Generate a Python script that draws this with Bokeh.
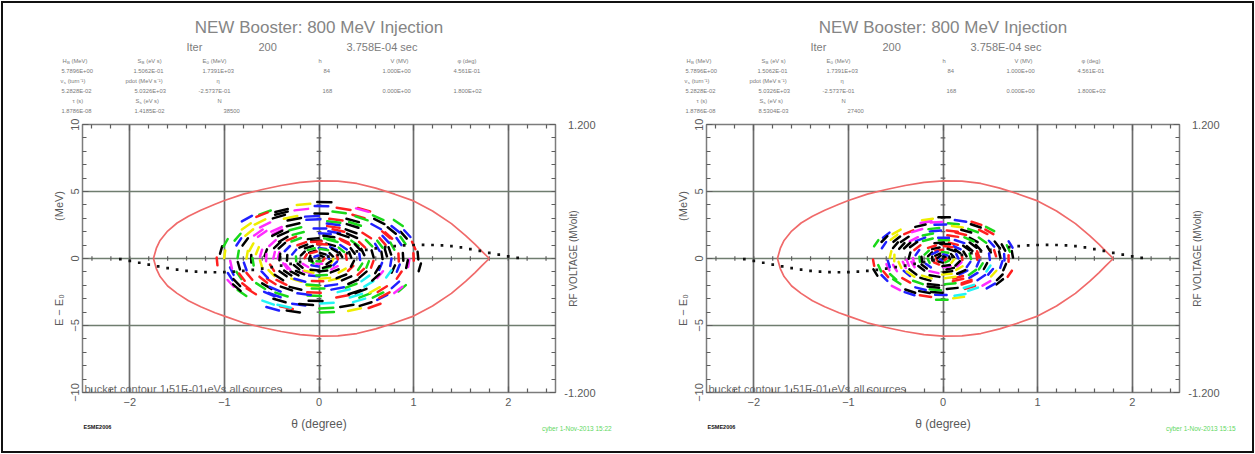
import math
from bokeh.plotting import figure
from bokeh.models import Range1d, LinearAxis, FixedTicker, CustomJSTickFormatter, Label
from bokeh.layouts import row, column
from bokeh.core.properties import value
from bokeh.embed import file_html
from bokeh.resources import INLINE

FONT = "Liberation Sans"

# ---------------- texts ----------------
TITLE = "NEW Booster: 800 MeV Injection"
ITER_TEXTS = ["Iter", "200", "3.758E-04 sec"]
BUCKET_NOTE = "bucket contour 1.51E-01 eVs all sources"
CODE_TAG = "ESME2006"
STAMPS = ["cyber  1-Nov-2013 15:22", "cyber  1-Nov-2013 15:15"]
X_LABEL = "\u03b8 (degree)"
Y_LABEL = "E \u2212 E\u2080" + "\u00a0" * 24 + "(MeV)"
RF_LABEL = "RF VOLTAGE (MVolt)"
RF_TICK_LABELS = ["1.200", "-1.200"]

# parameter table: headers as (base, subscript, rest)
HEADERS = [
    [("H", "B", "(MeV)"), ("S", "B", "(eV s)"), ("E", "0", "(MeV)"), ("h", "", ""), ("V (MV)", "", ""), ("\u03c6 (deg)", "", "")],
    [("\u03bd", "s", "(turn\u207b\u00b9)"), ("pdot (MeV s\u207b\u00b9)", "", ""), ("\u03b7", "", "")],
    [("\u03c4 (s)", "", ""), ("S", "s", "(eV s)"), ("N", "", "")],
]
VALUES_ROW1 = ["5.7896E+00", "1.5062E-01", "1.7391E+03", "84", "1.000E+00", "4.561E-01"]
VALUES_ROW2 = ["5.2828E-02", "5.0326E+03", "-2.5737E-01", "168", "0.000E+00", "1.800E+02"]
VALUES_ROW3_LEFT = ["1.8786E-08", "1.4185E-02", "38500"]
VALUES_ROW3_RIGHT = ["1.8786E-08", "8.5304E-03", "27400"]

# ---------------- axes ----------------
X_MAJOR = [-2, -1, 0, 1, 2]
X_MINOR = [-2.4, -2.2, -1.8, -1.6, -1.4, -1.2, -0.8, -0.6, -0.4, -0.2,
           0.2, 0.4, 0.6, 0.8, 1.2, 1.4, 1.6, 1.8, 2.2, 2.4]
Y_MAJOR = [-10, -5, 0, 5, 10]
Y_MINOR = [-9, -8, -7, -6, -4, -3, -2, -1, 1, 2, 3, 4, 6, 7, 8, 9]
RF_TICKS = [-1.2, 1.2]
RF_MINOR = [-1.08, -0.96, -0.84, -0.72, -0.6, -0.48, -0.36, -0.24, -0.12, 0.0,
            0.12, 0.24, 0.36, 0.48, 0.6, 0.72, 0.84, 0.96, 1.08]

# ---------------- bucket contour (theta deg, dE MeV) ----------------
BUCKET_THETA = [-1.75, -1.72, -1.68, -1.60, -1.50, -1.38, -1.25, -1.10, -1.00, -0.80, -0.60, -0.40, -0.20,
                0.00, 0.20, 0.40, 0.60, 0.80, 1.00, 1.20, 1.40, 1.55, 1.65, 1.72, 1.80]
BUCKET_UPPER = [0.0, 0.75, 1.35, 2.05, 2.65, 3.15, 3.6, 4.05, 4.33, 4.8, 5.15, 5.45, 5.68,
                5.8, 5.78, 5.6, 5.25, 4.8, 4.3, 3.55, 2.6, 1.7, 1.05, 0.55, 0.0]
BUCKET_LOWER = [0.0, -0.75, -1.35, -2.05, -2.6, -3.15, -3.6, -4.05, -4.3, -4.8, -5.15, -5.45, -5.68,
                -5.8, -5.78, -5.6, -5.25, -4.8, -4.3, -3.55, -2.6, -1.7, -1.05, -0.55, 0.0]

# ---------------- RF voltage (dotted), theta deg, MVolt ----------------
RF_THETA = [-2.1, -2.0, -1.9, -1.8, -1.7, -1.6, -1.5, -1.4, -1.3, -1.2, -1.1, -1.0, -0.9, -0.8, -0.7,
            -0.6, -0.5, -0.4, -0.3, -0.2, -0.1, 0.0, 0.1, 0.2, 0.3, 0.4, 0.5, 0.6, 0.7, 0.8, 0.9,
            1.0, 1.1, 1.2, 1.3, 1.4, 1.5, 1.6, 1.7, 1.8, 1.9, 2.0, 2.1]
RF_VOLT = [-0.006, -0.022, -0.038, -0.054, -0.070, -0.086, -0.100, -0.111, -0.118, -0.122, -0.123, -0.122,
           -0.118, -0.111, -0.102, -0.091, -0.078, -0.064, -0.049, -0.033, -0.017, 0.000, 0.017, 0.033,
           0.049, 0.064, 0.078, 0.091, 0.102, 0.111, 0.117, 0.121, 0.122, 0.121, 0.117, 0.110, 0.100,
           0.084, 0.068, 0.050, 0.034, 0.019, 0.006]

# ---------------- macro-particle dashes: rings of colour slots ----------------
# lower-case letter: dash on the ring; upper-case: dash slightly outside the ring; '.': empty slot
LEFT_RADII = [1.00, 0.955, 0.91, 0.865, 0.82, 0.775, 0.73, 0.685, 0.64, 0.595, 0.55,
              0.505, 0.46, 0.415, 0.37, 0.325, 0.28, 0.235, 0.19, 0.145, 0.10, 0.055]
LEFT_PHASE = [3, 14, 8, 21, 2, 17, 11, 26, 5, 19, 9, 30, 15, 4, 22, 12, 35, 18, 7, 28, 14, 50]
LEFT_RINGS = [
    "k.bG.r.Ky.gB..kR.mg.Bk..yR.g.K",
    "Rk.gM.b.kR..Gy.bK.cr.G.kbM..r",
    ".gBk.R.mk.Yg..bKr.C.gk.Rb.m",
    "bK.rg..kY.b.MgR.kb..cG.rK.",
    "K.rbG.k..mY.gkR.b.Kc.gR.b",
    "gR.k.bY.mK..rgB.k.cY.kR",
    "kB.gr.K.m.yB.kG..rk.Cb",
    "R.kgB.m.Yk.rB.g.Kcm.k",
    "kGr.b.Km.yG.rkB.c.Kb",
    "B.kr.gK.myB.kR.gcK.",
    "kG.rb.Kmk.yR.gBk.r",
    "rKb.gk.MrK.yb.Kg.",
    "kgKb.rKm.kyG.kR.",
    "bKrk.gKm.kBry.G",
    "kRgk.bKmk.yKr.",
    "kbGkr.kMkb.yK",
    "gkRkb.kmGk.r",
    "kbRk.gkYkm.",
    "rKbgk.mKgb",
    "kGkr.bKy",
    "bkRkgmK",
    "kbKgr",
]
LEFT_SEMI = (1.05, 4.1)

RIGHT_RADII = [1.00, 0.94, 0.88, 0.82, 0.76, 0.70, 0.64, 0.58, 0.52, 0.46, 0.40, 0.34, 0.28, 0.22, 0.16, 0.10, 0.05]
RIGHT_PHASE = [6, 15, 2, 24, 10, 19, 4, 28, 12, 33, 8, 20, 40, 15, 27, 9, 55]
RIGHT_RINGS = [
    "kB.gr.Ky..bG.rK.mb.Gy..kR.",
    "G.rkB.m.yK..gB.kR.c.Bk.r",
    "bK.r.gMk.yB..Rg.kB.cm.K",
    "K.gyB.rk..mG.bK.r.yBk",
    "rB.k.gM.kyB.r.GkC.b.",
    "kG.rb.K.yM.gK.rBc.",
    "B.kR.gmK.yb.KgR.k",
    "kGr.bK.mYk.rBg.",
    "rK.bgK.mKy.rGb",
    "kBg.rKm.kYb.R",
    "gKrk.bMk.yKb",
    "kbKr.gkMky.",
    "kRkgKb.kmr",
    "bKrkg.mK",
    "kgBkrKy",
    "kbKrkg",
    "kKbr",
]
RIGHT_SEMI = (0.74, 3.0)

COLOR_MAP = {"k": "#000000", "r": "#ff1f1f", "g": "#19d819", "b": "#2020ff",
             "m": "#ff2cff", "y": "#eeee00", "c": "#22f4f4"}

# ---------------- styling / layout constants (page pixels) ----------------
HEADER_H = 118
MAIN_H = 294
FOOTER_H = 42
FRAME_W = 473
GRID = "#6c6c6c"
TICK = "#5e5e5e"
LABEL = "#5a5a5a"
TEXT_GRAY = "#7a7a7a"
TABLE_PX = 5.8
SUB_PX = 4.4
CHAR_W = {"H": 0.722, "S": 0.667, "E": 0.667, "\u03bd": 0.52, "B": 0.667, "0": 0.556, "s": 0.5}

HDR_X = [[-20, 55, 120, 236, 308, 375], [-22, 43, 134], [-10, 53, 135]]
HDR_Y = [60.5, 80.5, 100.0]
VAL_X = [[-21, 51, 120, 241, 300, 371], [-21, 52, 116, 240, 300, 371], [-21, 52, 141]]
VAL_Y = [70.5, 90.5, 110.0]


def put(p, x, y, t, size, color=TEXT_GRAY, align="left", baseline="middle", style="normal", angle=0.0):
    p.text(x=[x], y=[y], text=[t], text_font=value(FONT), text_font_size=value(size),
           text_color=color, text_align=align, text_baseline=baseline, text_font_style=style,
           angle=angle)


def text_fig(width, height, x0, ytop):
    p = figure(width=width, height=height, x_range=Range1d(x0, x0 + width),
               y_range=Range1d(ytop + height, ytop), output_backend="svg", toolbar_location=None,
               tools="", x_axis_type=None, y_axis_type=None, min_border=0, title=None)
    p.outline_line_color = None
    p.background_fill_color = None
    p.border_fill_color = None
    if "frame_align" in p.properties():
        p.frame_align = False
    return p


def dash_segments(rings, radii, phases, semi):
    at, ae = semi
    x0, y0, x1, y1, col = [], [], [], [], []
    for pat, r, ph in zip(rings, radii, phases):
        n = len(pat)
        step = 2 * math.pi / n
        half = step * 0.33
        for i, ch in enumerate(pat):
            if ch == ".":
                continue
            rr = r + 0.03 if ch.isupper() else r
            a = math.radians(ph) + i * step
            x0.append(at * rr * math.cos(a - half))
            y0.append(ae * rr * math.sin(a - half))
            x1.append(at * rr * math.cos(a + half))
            y1.append(ae * rr * math.sin(a + half))
            col.append(COLOR_MAP[ch.lower()])
    return dict(x0=x0, y0=y0, x1=x1, y1=y1, color=col)


def style_axis(ax):
    ax.major_tick_in = 6
    ax.major_tick_out = 0
    ax.minor_tick_in = 4
    ax.minor_tick_out = 0
    ax.major_tick_line_color = TICK
    ax.minor_tick_line_color = TICK
    ax.major_tick_line_width = 1.2
    ax.minor_tick_line_width = 1.2
    ax.axis_line_color = None
    ax.major_label_text_font = FONT
    ax.major_label_text_font_size = "11px"
    ax.major_label_text_color = LABEL
    ax.axis_label_text_font = FONT
    ax.axis_label_text_font_style = "normal"
    ax.axis_label_text_color = LABEL


def build_panel(width, bl, rings, radii, phases, semi, row3_vals, stamp):
    main_w = bl + FRAME_W + 2
    strip_w = width - main_w

    # ---- header (title + parameter table); x measured from frame left ----
    h = text_fig(width, HEADER_H, -bl, 0)
    put(h, 236.5, 27, TITLE, "17px", color="#858585", align="center")
    for t, x in zip(ITER_TEXTS, [104, 176, 264]):
        put(h, x, 46, t, "11px", color="#7c7c7c")
    tp = "%.1fpx" % TABLE_PX
    sp = "%.1fpx" % SUB_PX
    for parts_row, xs, y in zip(HEADERS, HDR_X, HDR_Y):
        for (base, sub, rest), x in zip(parts_row, xs):
            put(h, x, y, base, tp)
            if sub:
                wb = sum(CHAR_W.get(c, 0.6) for c in base) * TABLE_PX
                ws = sum(CHAR_W.get(c, 0.6) for c in sub) * SUB_PX
                put(h, x + wb + 0.2, y + 1.6, sub, sp)
                put(h, x + wb + ws + 0.3 + 0.278 * TABLE_PX, y, rest, tp)
    for vals, xs, y in zip([VALUES_ROW1, VALUES_ROW2, row3_vals], VAL_X, VAL_Y):
        for v, x in zip(vals, xs):
            put(h, x, y, v, tp)

    # ---- main plot ----
    p = figure(width=main_w, height=MAIN_H, x_range=Range1d(-2.5, 2.5), y_range=Range1d(-10, 10),
               output_backend="svg", toolbar_location=None, tools="", title=None,
               min_border_left=bl, min_border_right=2, min_border_top=6, min_border_bottom=20)
    p.background_fill_color = "white"
    p.border_fill_color = None
    p.outline_line_color = "#7c7c7c"
    p.outline_line_width = 1.5
    p.extra_y_ranges = {"rf": Range1d(-1.2, 1.2)}

    p.xgrid.ticker = FixedTicker(ticks=X_MAJOR)
    p.ygrid.ticker = FixedTicker(ticks=Y_MAJOR)
    p.xgrid.grid_line_color = GRID
    p.ygrid.grid_line_color = "#6f7d6f"
    p.xgrid.grid_line_width = 1.7
    p.ygrid.grid_line_width = 1.7

    xa = p.xaxis[0]
    style_axis(xa)
    xa.ticker = FixedTicker(ticks=X_MAJOR, minor_ticks=X_MINOR)
    xa.major_label_standoff = 5

    ya = p.yaxis[0]
    style_axis(ya)
    ya.ticker = FixedTicker(ticks=Y_MAJOR, minor_ticks=Y_MINOR)
    ya.major_label_orientation = "vertical"
    ya.axis_label = Y_LABEL
    ya.axis_label_text_font_size = "11px"
    ya.major_label_standoff = 4
    ya.axis_label_standoff = 3

    ta = LinearAxis(ticker=FixedTicker(ticks=X_MAJOR, minor_ticks=X_MINOR),
                    formatter=CustomJSTickFormatter(code="return ''"))
    style_axis(ta)
    ta.major_label_text_font_size = "0px"
    ta.major_label_standoff = 0
    p.add_layout(ta, "above")

    ra = LinearAxis(y_range_name="rf", ticker=FixedTicker(ticks=RF_TICKS, minor_ticks=RF_MINOR),
                    formatter=CustomJSTickFormatter(code="return ''"))
    style_axis(ra)
    ra.major_label_text_font_size = "0px"
    ra.major_label_standoff = 0
    p.add_layout(ra, "right")

    # ticks along the zero lines
    zx = X_MAJOR + X_MINOR
    p.segment(x0=zx, x1=zx, y0=[-0.17] * len(zx), y1=[0.17] * len(zx), line_color=TICK, line_width=1.2)
    zy = Y_MAJOR[1:-1] + Y_MINOR
    p.segment(x0=[-0.025] * len(zy), x1=[0.025] * len(zy), y0=zy, y1=zy, line_color=TICK, line_width=1.2)

    # bucket
    p.line(BUCKET_THETA, BUCKET_UPPER, line_color="#f06a6a", line_width=1.7)
    p.line(BUCKET_THETA, BUCKET_LOWER, line_color="#f06a6a", line_width=1.7)

    # particles
    d = dash_segments(rings, radii, phases, semi)
    p.segment(x0="x0", y0="y0", x1="x1", y1="y1", line_color="color", line_width=2.5,
              line_cap="round", source=d)

    # RF voltage dotted curve
    p.scatter(RF_THETA, RF_VOLT, y_range_name="rf", marker="square", size=2.7,
              fill_color="#111111", line_color=None)

    p.add_layout(Label(x=2, y=4, x_units="screen", y_units="screen", text=BUCKET_NOTE,
                       text_font=FONT, text_font_size="11px", text_color="#6a6a6a",
                       text_baseline="alphabetic"))

    # ---- right strip: RF axis labels; x measured from frame right ----
    s = text_fig(strip_w, MAIN_H, 2, HEADER_H)
    put(s, 40, 124, RF_TICK_LABELS[0], "11px", color=LABEL, align="right")
    put(s, 40, 392, RF_TICK_LABELS[1], "11px", color=LABEL, align="right")
    put(s, 18, 258, RF_LABEL, "10px", color=LABEL, align="center", angle=math.pi / 2)

    # ---- footer (x label, code tag, stamp); x measured from frame left ----
    f = text_fig(width, FOOTER_H, -bl, HEADER_H + MAIN_H)
    put(f, 236.5, 423, X_LABEL, "12px", color=LABEL, align="center")
    put(f, 1, 426, CODE_TAG, "5.5px", color="#111111", style="bold")
    put(f, 531, 428, stamp, "6.5px", color="#5fd85f", align="right")

    return column(h, row(p, s), f)


left = build_panel(630, 82, LEFT_RINGS, LEFT_RADII, LEFT_PHASE, LEFT_SEMI, VALUES_ROW3_LEFT, STAMPS[0])
right = build_panel(625, 76, RIGHT_RINGS, RIGHT_RADII, RIGHT_PHASE, RIGHT_SEMI, VALUES_ROW3_RIGHT, STAMPS[1])

layout = row(left, right, styles={"outline": "2px solid #111111", "outline-offset": "-3px"})
open("out.html", "w").write(file_html(layout, INLINE))
